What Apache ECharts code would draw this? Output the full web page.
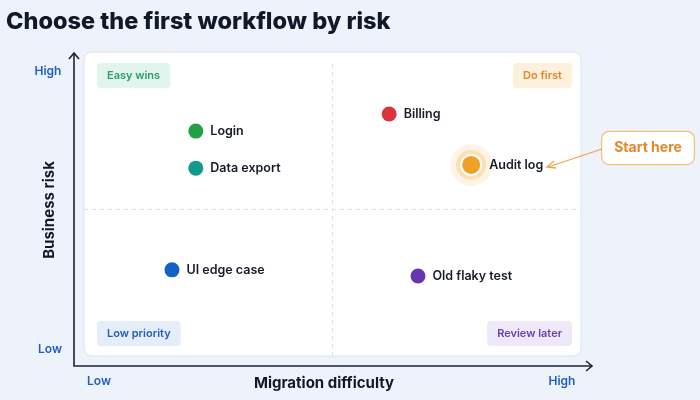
<!DOCTYPE html>
<html>
<head>
<meta charset="utf-8">
<script src="https://cdn.jsdelivr.net/npm/echarts@6/dist/echarts.min.js"></script>
<style>
  html, body { margin: 0; padding: 0; background: #eef3fb; }
  #chart { width: 700px; height: 400px; }
</style>
</head>
<body>
<div id="chart"></div>
<script>
// workflows: name, migration difficulty (0-10), business risk (0-10)
const names = ["Login", "Data export", "UI edge case", "Billing", "Audit log", "Old flaky test"];
const difficulty = [2.25, 2.25, 1.77, 6.14, 7.79, 6.72];
const risk = [7.65, 6.39, 2.93, 8.23, 6.5, 2.72];
const colors = ["#22a044", "#14998f", "#1360c8", "#d8353d", "#f0a024", "#6934b4"];
const highlight = "Audit log";
const quadrants = ["Easy wins", "Do first", "Low priority", "Review later"];
const axisEnds = ["Low", "High"];

const FONT = "Inter, 'Noto Sans', sans-serif";
const chart = echarts.init(document.getElementById("chart"));

const hi = names.indexOf(highlight);
const points = names.map((n, i) => ({
  name: n,
  value: [difficulty[i], risk[i]],
  itemStyle: n === highlight
    ? { color: colors[i], borderColor: "#ffffff", borderWidth: 2 }
    : { color: colors[i] },
  symbolSize: n === highlight ? 20 : 15
}));

function badge(text, x, y, bg, fg, align) {
  return {
    type: "text", x: x, y: y,
    style: {
      text: text, fill: fg, font: "600 11px " + FONT,
      backgroundColor: bg, padding: [7, 10], borderRadius: 4,
      align: align || "left", verticalAlign: "top"
    }
  };
}

chart.setOption({
  backgroundColor: "#eef3fb",
  animation: false,
  title: {
    text: "Choose the first workflow by risk", left: 1, top: 5,
    textStyle: { fontFamily: FONT, fontSize: 23.5, fontWeight: 800, color: "#111827" }
  },
  grid: { left: 84, right: 119, top: 62, bottom: 44 },
  xAxis: { type: "value", min: 0, max: 10, show: false },
  yAxis: { type: "value", min: 0, max: 10, show: false },
  graphic: [
    // panel behind the plot
    { type: "rect", z: -10, shape: { x: 84, y: 52, width: 497, height: 304, r: 8 },
      style: { fill: "#ffffff", stroke: "#dde3ee", lineWidth: 1 } },
    // axes with open arrows
    { type: "polyline", z: 5, shape: { points: [[74, 54], [74, 366], [591, 366]] },
      style: { stroke: "#1f2430", lineWidth: 1.6, fill: null } },
    { type: "polyline", z: 5, shape: { points: [[69, 59], [74, 53], [79, 59]] },
      style: { stroke: "#1f2430", lineWidth: 1.6, fill: null } },
    { type: "polyline", z: 5, shape: { points: [[586, 361], [592, 366], [586, 371]] },
      style: { stroke: "#1f2430", lineWidth: 1.6, fill: null } },
    // axis end labels
    { type: "text", x: 48, y: 71, style: { text: axisEnds[1], fill: "#1f5fbf", font: "600 12px " + FONT, align: "center", verticalAlign: "middle" } },
    { type: "text", x: 50, y: 349, style: { text: axisEnds[0], fill: "#1f5fbf", font: "600 12px " + FONT, align: "center", verticalAlign: "middle" } },
    { type: "text", x: 99, y: 381, style: { text: axisEnds[0], fill: "#1f5fbf", font: "600 12px " + FONT, align: "center", verticalAlign: "middle" } },
    { type: "text", x: 562, y: 381, style: { text: axisEnds[1], fill: "#1f5fbf", font: "600 12px " + FONT, align: "center", verticalAlign: "middle" } },
    // axis names
    { type: "text", x: 324, y: 383, style: { text: "Migration difficulty", fill: "#111827", font: "700 15px " + FONT, align: "center", verticalAlign: "middle" } },
    { type: "text", x: 49, y: 210, rotation: Math.PI / 2,
      style: { text: "Business risk", fill: "#111827", font: "700 15px " + FONT, align: "center", verticalAlign: "middle" } },
    // quadrant badges
    badge(quadrants[0], 97, 63, "#e2f5ec", "#2e9e6b"),
    badge(quadrants[1], 572, 63, "#fdf0dd", "#e4862a", "right"),
    badge(quadrants[2], 97, 321, "#e4edf8", "#1f5fbf"),
    badge(quadrants[3], 572, 321, "#eee9f8", "#6a3fb0", "right"),
    // callout
    { type: "text", x: 648, y: 148, z: 10,
      style: { text: "Start here", fill: "#e4862a", font: "700 14px " + FONT,
        backgroundColor: "#ffffff", borderColor: "#f3bf72", borderWidth: 1.2, borderRadius: 7,
        padding: [9, 12], align: "center", verticalAlign: "middle" } },
    { type: "line", z: 10, shape: { x1: 602, y1: 149, x2: 548, y2: 167 },
      style: { stroke: "#eda444", lineWidth: 1.3 } },
    { type: "polyline", z: 10, shape: { points: [[554, 161], [547, 167], [556, 168]] },
      style: { stroke: "#eda444", lineWidth: 1.3, fill: null } }
  ],
  series: [
    {
      type: "scatter", silent: true, z: 1,
      data: [{ value: [difficulty[hi], risk[hi]] }],
      symbolSize: 30,
      itemStyle: { opacity: 1, color: "rgba(247,176,70,0.3)", borderColor: "rgba(247,176,70,0.14)", borderWidth: 12 },
      markLine: {
        silent: true, symbol: "none", label: { show: false },
        lineStyle: { color: "#dfe3ea", type: [4, 4], width: 1 },
        data: [{ xAxis: 5 }, { yAxis: 5 }]
      }
    },
    {
      type: "scatter", z: 3,
      data: points,
      itemStyle: { opacity: 1 },
      label: {
        show: true, position: "right", distance: 7,
        formatter: p => p.name,
        fontFamily: FONT, fontSize: 12.5, fontWeight: 600, color: "#161b28"
      }
    }
  ]
});
</script>
</body>
</html>
